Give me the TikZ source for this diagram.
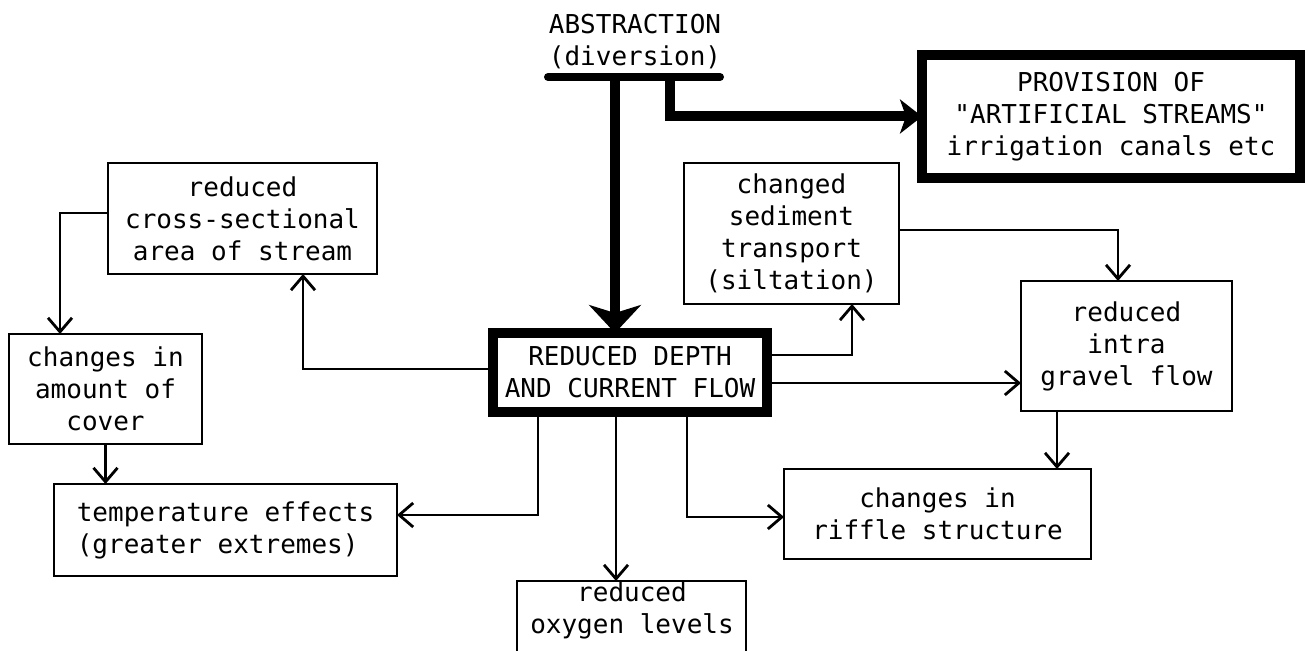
\documentclass[tikz,border=0pt]{standalone}
\usepackage{fontspec}
\newfontfamily\mono{DejaVu Sans Mono}
\usetikzlibrary{arrows.meta,calc}
\begin{document}
\begin{tikzpicture}[x=0.5pt,y=-0.5pt,
  txt/.style={font=\mono\fontsize{13}{16}\selectfont, align=center, inner sep=0pt, outer sep=0pt},
  box/.style={txt, draw, line width=1.4pt},
  bigbox/.style={txt, draw, line width=5pt},
  conn/.style={line width=1.4pt, -{Straight Barb[length=7pt,width=12pt,line width=1.4pt]}},
  thick conn/.style={line width=5pt}
]
\useasboundingbox (0,0) rectangle (1309,651);

% nodes
\node[txt] (abs) at (635,42) {ABSTRACTION\\(diversion)};
\coordinate (barL) at (548,77);
\coordinate (barR) at (720,77);
\coordinate (b1) at (615,77);
\coordinate (b2) at (670,77);

\node[bigbox, minimum width=189pt, minimum height=61.5pt] (prov) at (1111,116.5)
  {PROVISION OF\\"ARTIFICIAL STREAMS"\\irrigation canals etc};
\node[box, minimum width=134.5pt, minimum height=55.5pt] (cross) at (242.5,218.5)
  {reduced\\cross-sectional\\area of stream};
\node[box, minimum width=107.5pt, minimum height=70.5pt] (sed) at (791.5,233.5)
  {changed\\sediment\\transport\\(siltation)};
\node[bigbox, minimum width=137pt, minimum height=39.5pt] (center) at (630,372.5)
  {REDUCED DEPTH\\AND CURRENT FLOW};
\node[box, minimum width=96.5pt, minimum height=55pt] (cover) at (105.5,389)
  {changes in\\amount of\\cover};
\node[box, minimum width=105.5pt, minimum height=65pt] (intra) at (1126.5,346)
  {reduced\\intra\\gravel flow};
\node[box, align=left, minimum width=171.5pt, minimum height=46pt] (temp) at (225.5,530)
  {temperature effects\\(greater extremes)};
\node[box, minimum width=153.5pt, minimum height=45pt] (riffle) at (937.5,514)
  {changes in\\riffle structure};
\node[box, minimum width=114.5pt, minimum height=49.5pt] (oxybox) at (631.5,630.5) {};
\node[txt] (oxy) at (632,610) {reduced\\oxygen levels};

% abstraction bar and thick arrows
\draw[line width=4pt, line cap=round] (barL) -- (barR);
\draw[thick conn, -{Stealth[length=14pt,width=26pt,inset=4pt]}] (b1) -- (b1 |- center.north);
\draw[thick conn, -{Stealth[length=11pt,width=17pt,inset=3pt]}] (b2) |- (prov.west);

% thin connectors
\draw[conn] ($(center.west)+(0,-3.5)$) -| ($(cross.south)+(60.5,0)$);
\draw[conn] ($(cross.west)+(0,-5.5)$) -| ($(cover.north)+(-45.5,0)$);
\draw[conn] (cover.south) -- (cover.south |- temp.north);
\draw[conn] ($(center.south)+(-92,0)$) |- ($(temp.east)+(0,-15)$);
\coordinate (c5) at ($(center.south)+(-14,0)$);
\draw[conn] (c5) -- (c5 |- oxybox.north);
\coordinate (c6) at ($(center.south)+(57,0)$);
\draw[conn] (c6) |- ($(riffle.west)+(0,3)$);
\draw[conn] ($(center.east)+(0,-17.5)$) -| ($(sed.south)+(60.5,0)$);
\coordinate (c8) at ($(center.east)+(0,10.5)$);
\draw[conn] (c8) -- (c8 -| intra.west);
\draw[conn] ($(sed.east)+(0,-3.5)$) -| ($(intra.north)+(-8.5,0)$);
\coordinate (c10) at ($(intra.south)+(-69.5,0)$);
\draw[conn] (c10) -- (c10 |- riffle.north);
\end{tikzpicture}
\end{document}
